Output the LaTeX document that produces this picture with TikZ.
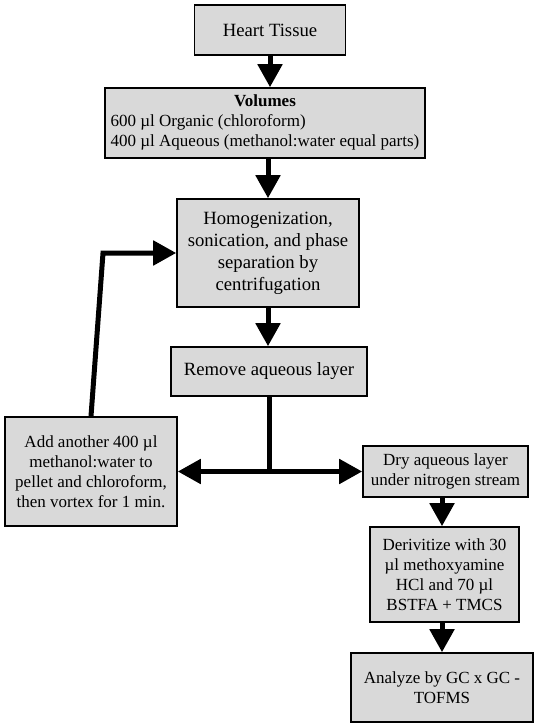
\documentclass[tikz,border=0pt]{standalone}
\usepackage{fontspec}
\setmainfont{Liberation Serif}
\usepackage{tikz}
\usetikzlibrary{arrows.meta}
\definecolor{boxgray}{RGB}{217,217,217}
\newcommand{\bigtext}{\fontsize{18.7}{22}\selectfont}
\newcommand{\smalltext}{\fontsize{17}{20}\selectfont}

\begin{document}
\begin{tikzpicture}
  [x=1pt,y=-1pt,
   box/.style={draw,line width=1.6pt,fill=boxgray,inner sep=0pt,align=center},
   arr/.style={line width=5pt,-{Triangle[length=23pt,width=24pt]}}]

  \useasboundingbox (0,0) rectangle (536,727);

  \node[box,minimum width=151pt,minimum height=50pt,font=\bigtext] (heart) at (270,30) {Heart Tissue};
  \node[box,minimum width=320pt,minimum height=70pt,font=\smalltext] (vol) at (265,123)
    {\begin{tabular}{@{}l@{}}\multicolumn{1}{@{}c@{}}{\textbf{Volumes}}\\
      600 µl Organic (chloroform)\\
      400 µl Aqueous (methanol:water equal parts)\end{tabular}};
  \node[box,minimum width=182pt,minimum height=108pt,font=\bigtext] (homog) at (268,253)
    {Homogenization,\\ sonication, and phase\\ separation by\\ centrifugation};
  \node[box,minimum width=196pt,minimum height=49pt,font=\bigtext] (remove) at (269,371.5) {Remove aqueous layer};
  \node[box,minimum width=172pt,minimum height=109pt,font=\smalltext] (addmore) at (91,471.5)
    {Add another 400 µl\\ methanol:water to\\ pellet and chloroform,\\ then vortex for 1 min.};
  \node[box,minimum width=165pt,minimum height=51pt,font=\smalltext] (dry) at (445.5,471.5)
    {Dry aqueous layer\\ under nitrogen stream};
  \node[box,minimum width=149pt,minimum height=95pt,font=\smalltext] (deriv) at (444.5,574.5)
    {Derivitize with 30\\ µl methoxyamine\\ HCl and 70 µl\\ BSTFA + TMCS};
  \node[box,minimum width=182pt,minimum height=69pt,font=\smalltext] (analyze) at (442,687.5)
    {Analyze by GC x GC -\\ TOFMS};

  \coordinate (split) at (remove.south |- dry.west);
  \coordinate (bend) at (103,253);

  \draw[arr] (heart.south) -- (heart.south |- vol.north);
  \draw[arr] (homog.north |- vol.south) -- (homog.north);
  \draw[arr] (homog.south) -- (homog.south |- remove.north);
  \draw[line width=5pt] (remove.south) -- (split);
  \draw[arr] (split) -- (addmore.east);
  \draw[arr] (split) -- (dry.west);
  \draw[arr] (addmore.north) -- (bend) -- (homog.west);
  \draw[arr] (analyze.north |- dry.south) -- (analyze.north |- deriv.north);
  \draw[arr] (analyze.north |- deriv.south) -- (analyze.north);
\end{tikzpicture}
\end{document}
